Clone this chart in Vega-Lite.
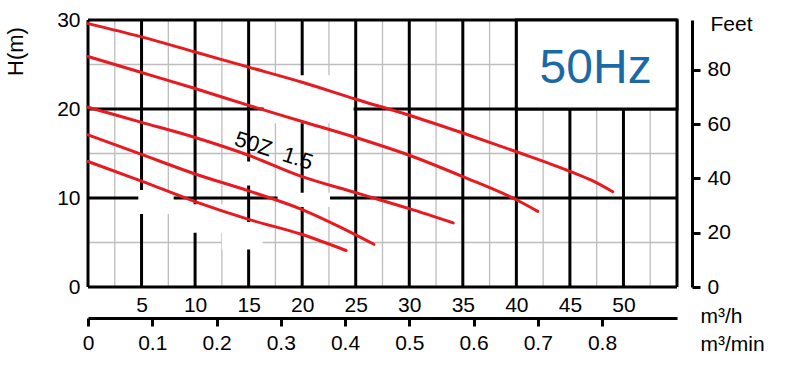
{
  "$schema": "https://vega.github.io/schema/vega-lite/v6.json",
  "width": 589,
  "height": 267,
  "autosize": "none",
  "padding": {"left": 88, "top": 20, "right": 135, "bottom": 86},
  "background": "white",
  "config": {
    "view": {"stroke": null},
    "font": "Liberation Sans",
    "axis": {
      "labelFont": "Liberation Sans",
      "titleFont": "Liberation Sans",
      "labelColor": "#000000",
      "titleColor": "#000000",
      "labelFontSize": 21,
      "titleFontSize": 21,
      "titleFontWeight": "normal",
      "grid": false,
      "labelOverlap": false,
      "labelFlush": false,
      "labelBound": false
    }
  },
  "datasets": {
    "minorX": [{"q": 2.5}, {"q": 7.5}, {"q": 12.5}, {"q": 17.5}, {"q": 22.5}, {"q": 27.5}, {"q": 32.5}, {"q": 37.5}, {"q": 42.5}, {"q": 47.5}, {"q": 52.5}],
    "minorY": [{"h": 5}, {"h": 15}, {"h": 25}],
    "majorX": [{"q": 0}, {"q": 5}, {"q": 10}, {"q": 15}, {"q": 20}, {"q": 25}, {"q": 30}, {"q": 35}, {"q": 40}, {"q": 45}, {"q": 50}, {"q": 55}],
    "majorY": [{"h": 0}, {"h": 10}, {"h": 20}, {"h": 30}],
    "masks": [
      {"q1": 16.4, "q2": 24.8, "h1": 18.4, "h2": 23.8},
      {"q1": 4.7, "q2": 8.0, "h1": 8.2, "h2": 10.9},
      {"q1": 8.0, "q2": 14.7, "h1": 6.1, "h2": 9.3},
      {"q1": 12.5, "q2": 16.3, "h1": 4.2, "h2": 7.3},
      {"q1": 17.7, "q2": 22.6, "h1": 9.0, "h2": 10.6},
      {"q1": 13.9, "q2": 16.3, "h1": 11.4, "h2": 14.1}
    ],
    "box": [{"q1": 40, "q2": 55, "h1": 20, "h2": 30}],
    "curves": [
      {"curve": "A", "q": 0, "h": 29.6}, {"curve": "A", "q": 5, "h": 28.1}, {"curve": "A", "q": 10, "h": 26.4}, {"curve": "A", "q": 15, "h": 24.7}, {"curve": "A", "q": 20, "h": 23.0}, {"curve": "A", "q": 25, "h": 21.1}, {"curve": "A", "q": 30, "h": 19.3}, {"curve": "A", "q": 35, "h": 17.3}, {"curve": "A", "q": 40, "h": 15.2}, {"curve": "A", "q": 45, "h": 13.0}, {"curve": "A", "q": 47, "h": 12.0}, {"curve": "A", "q": 49, "h": 10.7},
      {"curve": "B", "q": 0, "h": 25.9}, {"curve": "B", "q": 5, "h": 24.1}, {"curve": "B", "q": 10, "h": 22.3}, {"curve": "B", "q": 15, "h": 20.4}, {"curve": "B", "q": 20, "h": 18.6}, {"curve": "B", "q": 25, "h": 16.8}, {"curve": "B", "q": 30, "h": 14.8}, {"curve": "B", "q": 35, "h": 12.4}, {"curve": "B", "q": 40, "h": 9.8}, {"curve": "B", "q": 42, "h": 8.5},
      {"curve": "C", "q": 0, "h": 20.2}, {"curve": "C", "q": 5, "h": 18.5}, {"curve": "C", "q": 10, "h": 16.8}, {"curve": "C", "q": 15, "h": 14.8}, {"curve": "C", "q": 20, "h": 12.4}, {"curve": "C", "q": 25, "h": 10.6}, {"curve": "C", "q": 30, "h": 8.8}, {"curve": "C", "q": 34.1, "h": 7.2},
      {"curve": "D", "q": 0, "h": 17.1}, {"curve": "D", "q": 5, "h": 14.9}, {"curve": "D", "q": 10, "h": 12.7}, {"curve": "D", "q": 15, "h": 10.8}, {"curve": "D", "q": 20, "h": 8.7}, {"curve": "D", "q": 23.6, "h": 6.7}, {"curve": "D", "q": 26.7, "h": 4.8},
      {"curve": "E", "q": 0, "h": 14.1}, {"curve": "E", "q": 5, "h": 11.9}, {"curve": "E", "q": 10, "h": 9.6}, {"curve": "E", "q": 15, "h": 7.6}, {"curve": "E", "q": 20, "h": 5.9}, {"curve": "E", "q": 24.1, "h": 4.1}
    ],
    "hz": [{"q": 47.4, "h": 22.9, "label": "50Hz"}],
    "model": [{"q": 17.35, "h": 15.3, "label": "50Z\u00a0 1.5"}]
  },
  "resolve": {"axis": {"x": "independent", "y": "independent"}},
  "layer": [
    {
      "data": {"name": "minorX"},
      "mark": {"type": "rule", "color": "#bdbdbd", "strokeWidth": 1.3},
      "encoding": {
        "x": {
          "field": "q", "type": "quantitative",
          "scale": {"domain": [0, 55], "nice": false, "zero": false},
          "axis": {
            "orient": "bottom",
            "values": [5, 10, 15, 20, 25, 30, 35, 40, 45, 50],
            "domain": false, "ticks": false, "tickSize": 0,
            "labelPadding": 7,
            "title": "m³/h",
            "titleX": 612, "titleY": 35,
            "titleAlign": "left", "titleBaseline": "alphabetic"
          }
        }
      }
    },
    {
      "data": {"name": "minorY"},
      "mark": {"type": "rule", "color": "#bdbdbd", "strokeWidth": 1.3},
      "encoding": {
        "y": {
          "field": "h", "type": "quantitative",
          "scale": {"domain": [0, 30], "nice": false, "zero": false},
          "axis": {
            "orient": "left",
            "values": [0, 10, 20, 30],
            "domain": false, "ticks": false, "tickSize": 0,
            "labelPadding": 8,
            "title": "H(m)",
            "titleFontSize": 22,
            "titleX": -73, "titleY": 31, "titleAngle": -90,
            "titleAlign": "center", "titleBaseline": "middle"
          }
        }
      }
    },
    {
      "data": {"name": "majorX"},
      "mark": {"type": "rule", "color": "#000000", "strokeWidth": 3},
      "encoding": {
        "x": {
          "field": "q", "type": "quantitative",
          "scale": {"domain": [0, 55], "nice": false, "zero": false},
          "axis": {
            "orient": "bottom",
            "offset": 31,
            "values": [0, 6, 12, 18, 24, 30, 36, 42, 48],
            "labelExpr": "format(datum.value / 60, '.1~f')",
            "domain": true, "domainColor": "#000000", "domainWidth": 3,
            "ticks": true, "tickColor": "#000000", "tickWidth": 3, "tickSize": 8,
            "labelPadding": 6,
            "title": "m³/min",
            "titleX": 612, "titleY": 32,
            "titleAlign": "left", "titleBaseline": "alphabetic",
            "encode": {"ticks": {"update": {"y2": {"signal": "datum.value === 0 ? -11 : 8"}}}}
          }
        }
      }
    },
    {
      "data": {"name": "majorY"},
      "mark": {"type": "rule", "color": "#000000", "strokeWidth": 3},
      "encoding": {
        "y": {
          "field": "h", "type": "quantitative",
          "scale": {"domain": [0, 30], "nice": false, "zero": false},
          "axis": {
            "orient": "right",
            "offset": 15,
            "values": [0, 6.096, 12.192, 18.288, 24.384],
            "labelExpr": "format(round(datum.value * 3.28084), 'd')",
            "domain": true, "domainColor": "#000000", "domainWidth": 3,
            "ticks": true, "tickColor": "#000000", "tickWidth": 3, "tickSize": 8,
            "labelPadding": 7,
            "title": "Feet",
            "titleAngle": 0,
            "titleX": 18, "titleY": 10,
            "titleAlign": "left", "titleBaseline": "alphabetic"
          }
        }
      }
    },
    {
      "data": {"name": "masks"},
      "mark": {"type": "rect", "color": "#ffffff"},
      "encoding": {
        "x": {"field": "q1", "type": "quantitative", "scale": {"domain": [0, 55], "nice": false, "zero": false}, "axis": null},
        "x2": {"field": "q2"},
        "y": {"field": "h1", "type": "quantitative", "scale": {"domain": [0, 30], "nice": false, "zero": false}, "axis": null},
        "y2": {"field": "h2"}
      }
    },
    {
      "data": {"name": "box"},
      "mark": {"type": "rect", "fill": "#ffffff", "stroke": "#000000", "strokeWidth": 3},
      "encoding": {
        "x": {"field": "q1", "type": "quantitative", "scale": {"domain": [0, 55], "nice": false, "zero": false}, "axis": null},
        "x2": {"field": "q2"},
        "y": {"field": "h1", "type": "quantitative", "scale": {"domain": [0, 30], "nice": false, "zero": false}, "axis": null},
        "y2": {"field": "h2"}
      }
    },
    {
      "data": {"name": "curves"},
      "mark": {"type": "line", "color": "#e8191f", "strokeWidth": 3, "interpolate": "monotone", "strokeCap": "round"},
      "encoding": {
        "x": {"field": "q", "type": "quantitative", "scale": {"domain": [0, 55], "nice": false, "zero": false}, "axis": null},
        "y": {"field": "h", "type": "quantitative", "scale": {"domain": [0, 30], "nice": false, "zero": false}, "axis": null},
        "detail": {"field": "curve", "type": "nominal"}
      }
    },
    {
      "data": {"name": "hz"},
      "mark": {"type": "text", "font": "Liberation Sans", "fontSize": 48, "color": "#1b6aa5", "align": "center", "baseline": "alphabetic"},
      "encoding": {
        "x": {"field": "q", "type": "quantitative", "scale": {"domain": [0, 55], "nice": false, "zero": false}, "axis": null},
        "y": {"field": "h", "type": "quantitative", "scale": {"domain": [0, 30], "nice": false, "zero": false}, "axis": null},
        "text": {"field": "label"}
      }
    },
    {
      "data": {"name": "model"},
      "mark": {"type": "text", "font": "Liberation Sans", "fontSize": 22, "color": "#000000", "align": "center", "baseline": "middle", "angle": 18},
      "encoding": {
        "x": {"field": "q", "type": "quantitative", "scale": {"domain": [0, 55], "nice": false, "zero": false}, "axis": null},
        "y": {"field": "h", "type": "quantitative", "scale": {"domain": [0, 30], "nice": false, "zero": false}, "axis": null},
        "text": {"field": "label"}
      }
    }
  ]
}
